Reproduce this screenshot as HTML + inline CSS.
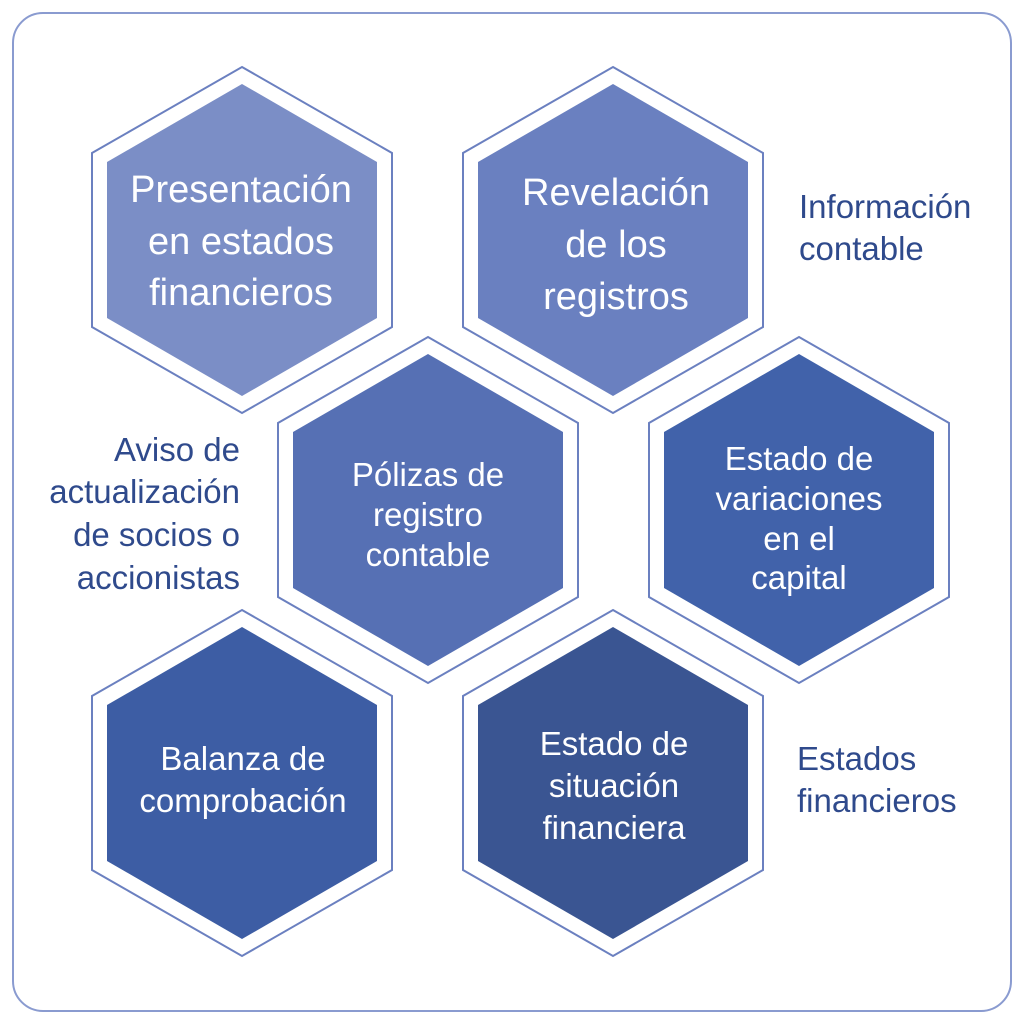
<!DOCTYPE html>
<html><head><meta charset="utf-8"><style>
body{margin:0;background:#fff;width:1024px;height:1024px;overflow:hidden}
svg text{font-family:"Liberation Sans",sans-serif}
</style></head><body>
<svg width="1024" height="1024" viewBox="0 0 1024 1024">
<rect x="13" y="13" width="998" height="998" rx="30" fill="#fff" stroke="#8a9bd0" stroke-width="2"/>
<defs>
<polygon id="o" points="0,-173 150,-87 150,87 0,173 -150,87 -150,-87" fill="#fff" stroke="#6b80c0" stroke-width="2"/>
<polygon id="i" points="0,-156 135,-78 135,78 0,156 -135,78 -135,-78"/>
</defs>
<g transform="translate(242,240)"><use href="#o"/><use href="#i" fill="#7b8ec6"/></g>
<g transform="translate(613,240)"><use href="#o"/><use href="#i" fill="#6a80c0"/></g>
<g transform="translate(428,510)"><use href="#o"/><use href="#i" fill="#5670b4"/></g>
<g transform="translate(799,510)"><use href="#o"/><use href="#i" fill="#4162aa"/></g>
<g transform="translate(242,783)"><use href="#o"/><use href="#i" fill="#3d5da4"/></g>
<g transform="translate(613,783)"><use href="#o"/><use href="#i" fill="#3a5592"/></g>
<g fill="#fff" text-anchor="middle" font-size="38">
<text x="241" y="202">Presentación</text><text x="241" y="254">en estados</text><text x="241" y="305">financieros</text>
<text x="616" y="205">Revelación</text><text x="616" y="257">de los</text><text x="616" y="309">registros</text>
</g>
<g fill="#fff" text-anchor="middle" font-size="33">
<text x="428" y="486">Pólizas de</text><text x="428" y="526">registro</text><text x="428" y="566">contable</text>
<text x="799" y="470">Estado de</text><text x="799" y="510">variaciones</text><text x="799" y="550">en el</text><text x="799" y="589">capital</text>
<text x="243" y="770">Balanza de</text><text x="243" y="812">comprobación</text>
<text x="614" y="755">Estado de</text><text x="614" y="797">situación</text><text x="614" y="839">financiera</text>
</g>
<g fill="#2f4a8c" font-size="33">
<text x="799" y="218">Información</text><text x="799" y="260">contable</text>
<text x="240" y="461" text-anchor="end">Aviso de</text><text x="240" y="503" text-anchor="end">actualización</text><text x="240" y="546" text-anchor="end">de socios o</text><text x="240" y="589" text-anchor="end">accionistas</text>
<text x="797" y="770">Estados</text><text x="797" y="812">financieros</text>
</g>
</svg>
</body></html>
